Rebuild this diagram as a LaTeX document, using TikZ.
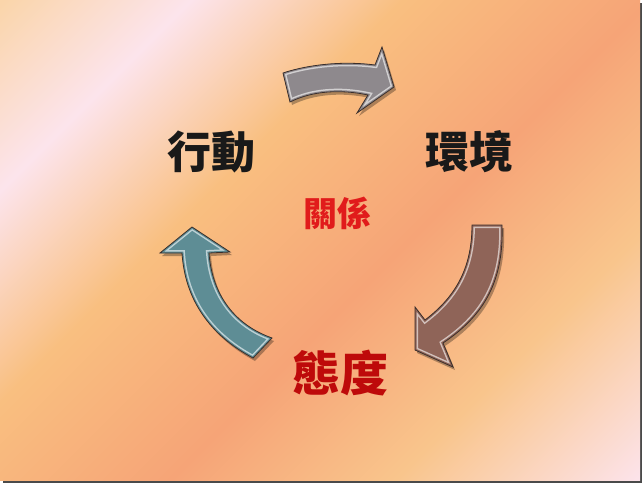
\documentclass[tikz,border=0pt]{standalone}
\usepackage{fontspec}
\newfontfamily\cjk{Noto Sans CJK TC}
\usetikzlibrary{positioning}

\definecolor{bgA}{HTML}{FAD5AA}
\definecolor{bgB}{HTML}{FCE4EC}
\definecolor{bgC}{HTML}{F9BF80}
\definecolor{bgD}{HTML}{F6A477}
\definecolor{bgE}{HTML}{F9C58C}
\definecolor{bgF}{HTML}{FCE3EA}
\definecolor{greyarrow}{HTML}{8E898D}
\definecolor{brownarrow}{HTML}{8F6458}
\definecolor{tealarrow}{HTML}{5E8D95}
\definecolor{arrowline}{HTML}{3A2E2A}
\definecolor{relred}{HTML}{E11B1B}
\definecolor{attred}{HTML}{BE0A0A}
\definecolor{framegrey}{HTML}{4A4A4A}

\pgfdeclarehorizontalshading{slidebg}{100bp}{color(0bp)=(bgA); color(25.25bp)=(bgA);
  color(33.6bp)=(bgB); color(43bp)=(bgC); color(54bp)=(bgD); color(64bp)=(bgE);
  color(74.75bp)=(bgF); color(100bp)=(bgF)}

\newcommand\greyshape{(283,73) .. controls (310,64) and (345,61) .. (375,65) -- (382,47)
  -- (394,87) -- (357,113) -- (368,95) .. controls (340,89) and (312,91) .. (290,102) -- cycle}
\newcommand\brownshape{(472,225) -- (502,225) .. controls (504,280) and (485,315) .. (443,343)
  -- (453,367) -- (415,350) -- (415,307) -- (425,320) .. controls (458,295) and (472,265) .. (472,225) -- cycle}
\newcommand\tealshape{(192,227) -- (230,252) -- (209,253) .. controls (212,295) and (235,325) .. (272,338)
  -- (253,358) .. controls (210,335) and (185,300) .. (182,253) -- (160,253) -- cycle}

\begin{document}
\begin{tikzpicture}[x=1pt,y=-1pt]
\tikzset{
  big word/.style={font=\cjk\bfseries\fontsize{44}{44}\selectfont, inner sep=0pt},
  arrow shadow/.style={fill=black, opacity=.3, shift={(2,3)}},
  arrow edge/.style={draw=arrowline, line width=.8pt, line join=miter}
}
\useasboundingbox (0,0) rectangle (644,484);
\fill [white] (0,0) rectangle (644,484);
% slide background
\fill [framegrey] (3,3) rectangle (642,482.5);
\begin{scope}
\clip (0,0) rectangle (640,480);
\shade [shading=slidebg, shading angle=-45] (-80,-160) rectangle (720,640);
\end{scope}
% grey arrow
\fill [arrow shadow] \greyshape;
\begin{scope}
\clip \greyshape;
\fill [greyarrow] \greyshape;
\draw [greyarrow!40!white, line width=6pt] \greyshape;
\draw [greyarrow, line width=3pt] \greyshape;
\end{scope}
\draw [arrow edge] \greyshape;
% brown arrow
\fill [arrow shadow] \brownshape;
\begin{scope}
\clip \brownshape;
\fill [brownarrow] \brownshape;
\draw [brownarrow!40!white, line width=6pt] \brownshape;
\draw [brownarrow, line width=3pt] \brownshape;
\end{scope}
\draw [arrow edge] \brownshape;
% teal arrow
\fill [arrow shadow] \tealshape;
\begin{scope}
\clip \tealshape;
\fill [tealarrow] \tealshape;
\draw [tealarrow!40!white, line width=6pt] \tealshape;
\draw [tealarrow, line width=3pt] \tealshape;
\end{scope}
\draw [arrow edge] \tealshape;
% words
\node [big word, text=black!90] (act) at (211,152) {行動};
\node [big word, text=black!90] (env) at (469,152) {環境};
\node [big word, text=relred, font=\cjk\bfseries\fontsize{34}{34}\selectfont] (rel) at (337.5,213) {關係};
\node [big word, text=attred, font=\cjk\bfseries\fontsize{48}{48}\selectfont] (att) at (340.5,373) {態度};
\end{tikzpicture}
\end{document}
